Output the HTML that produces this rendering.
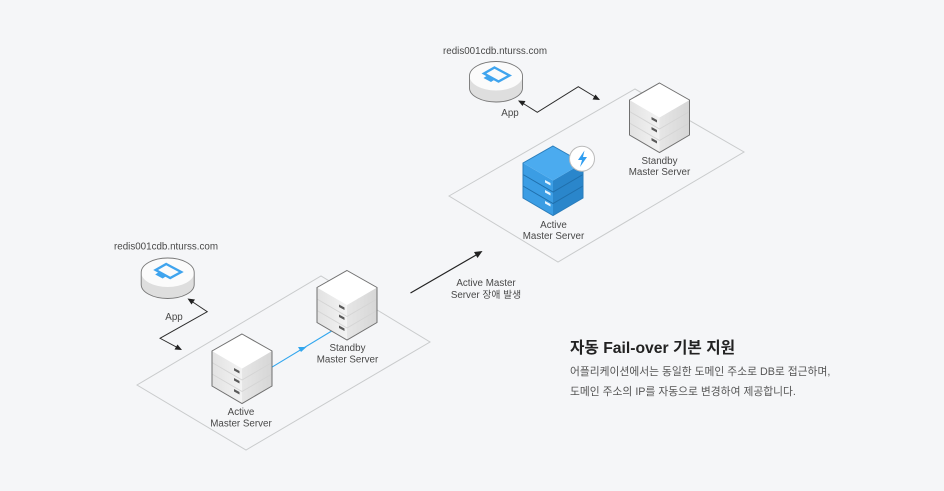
<!DOCTYPE html>
<html><head><meta charset="utf-8"><style>
html,body{margin:0;padding:0;background:#f5f6f8}
svg{display:block}
text{font-family:"Liberation Sans","Noto Sans CJK KR",sans-serif;fill:#484848;font-size:9.8px;text-anchor:middle}
</style></head><body>
<svg width="944" height="491" viewBox="0 0 944 491" xmlns="http://www.w3.org/2000/svg">
<defs>
<linearGradient id="lf" x1="0" y1="0" x2="1" y2="0"><stop offset="0" stop-color="#e2e2e2"/><stop offset="1" stop-color="#f3f3f3"/></linearGradient>
<linearGradient id="rf" x1="0" y1="0" x2="1" y2="0"><stop offset="0" stop-color="#e6e6e6"/><stop offset="1" stop-color="#d6d6d6"/></linearGradient>
<g id="gs">
<path d="M-30 17V52L0 69.500V34.500Z" fill="url(#lf)"/>
<path d="M30 17V52L0 69.500V34.500Z" fill="url(#rf)"/>
<path d="M0 0L30 17L0 34.500L-30 17Z" fill="#fff"/>
<path d="M-30 28.500L0 46L30 28.500M-30 40L0 57.500L30 40" fill="none" stroke="#d4d4d4" stroke-width=".9"/>
<path d="M0 0L30 17V52L0 69.500L-30 52V17Z" fill="none" stroke="#707070" stroke-width="1"/>
<path d="M-8 34l5.500 3v2.500l-5.500-3zM-8 44l5.500 3v2.500l-5.500-3zM-8 55l5.500 3v2.500l-5.500-3z" fill="#5a5a5a"/>
</g>
<g id="gc">
<path d="M-26.500 0V12A26.500 14 0 0 0 26.500 12V0Z" fill="#dedede"/>
<ellipse cx="0" cy="0" rx="26.500" ry="14.500" fill="#fbfbfb"/>
<path d="M-26.500 0V12A26.500 14 0 0 0 26.500 12V0A26.500 14.500 0 0 0 -26.500 0Z" fill="none" stroke="#777" stroke-width=".9"/>
<path d="M-1.500 -8.500L13.500 -.5L2.500 5.500L-12 -2.500Z" fill="none" stroke="#3fa4ee" stroke-width="2.400"/>
<path d="M-9.500 0L-2 4L-5 6L-12.500 2Z" fill="#3fa4ee"/>
</g>
</defs>
<rect width="944" height="491" fill="#f5f6f8"/>

<path d="M137 385L321 276L430 342L246 450Z" fill="none" stroke="#c9cbcc" stroke-width="1"/>
<path d="M449 196L635 89L744 152L558 262Z" fill="none" stroke="#c9cbcc" stroke-width="1"/>

<path d="M271.700 367.300L331.700 331" fill="none" stroke="#31a6ee" stroke-width="1.100"/>
<path d="M306.500 347L298 347L301 352Z" fill="#31a6ee"/>

<use href="#gs" x="242" y="334"/>
<use href="#gs" x="347" y="270.500"/>
<use href="#gs" x="659.500" y="83"/>

<g transform="translate(553 146)">
<path d="M-30 17V52L0 69.500V34.500Z" fill="#3b9de4"/>
<path d="M30 17V52L0 69.500V34.500Z" fill="#2a86cb"/>
<path d="M0 0L30 17L0 34.500L-30 17Z" fill="#4babef"/>
<path d="M-30 28.500L0 46L30 28.500M-30 40L0 57.500L30 40" fill="none" stroke="#1f6fac" stroke-width="1"/>
<path d="M0 0L30 17V52L0 69.500L-30 52V17Z" fill="none" stroke="#2a7dbb" stroke-width="1"/>
<path d="M-8 34l5.500 3v2.500l-5.500-3zM-8 44l5.500 3v2.500l-5.500-3zM-8 55l5.500 3v2.500l-5.500-3z" fill="#e8f5fe"/>
</g>
<circle cx="582" cy="158.700" r="12.500" fill="#fff" stroke="#bbb" stroke-width="1"/>
<path d="M584.500 150.500L578 160H582L580 167L587 157H583Z" fill="#2f9df0"/>

<use href="#gc" x="167.700" y="272.500"/>
<use href="#gc" x="496" y="76"/>

<path d="M189 299.500L207.300 311.700L160 338.300L180.700 349.300" fill="none" stroke="#2a2a2a" stroke-width=".9"/>
<path d="M187.500 298.500L195 299.500L191.500 304.500Z" fill="#222"/>
<path d="M182 350L174.500 349.500L177.500 344.500Z" fill="#222"/>
<path d="M519.300 101L537.300 112.300L578.300 86.700L599 99.300" fill="none" stroke="#2a2a2a" stroke-width=".9"/>
<path d="M518 100.500L525.500 101L522.500 106Z" fill="#222"/>
<path d="M600 100L592.500 99.500L595.500 94.500Z" fill="#222"/>

<path d="M410.500 293L477 254.500" fill="none" stroke="#222" stroke-width="1.200"/>
<path d="M482.500 251L474 252L477.500 258Z" fill="#222"/>

<text x="166" y="249.500">redis001cdb.nturss.com</text>
<text x="495" y="54">redis001cdb.nturss.com</text>
<text x="174" y="320">App</text>
<text x="510" y="116">App</text>
<text x="241" y="415">Active</text>
<text x="241" y="426.500">Master Server</text>
<text x="347.500" y="351">Standby</text>
<text x="347.500" y="362.500">Master Server</text>
<text x="553.500" y="228">Active</text>
<text x="553.500" y="239">Master Server</text>
<text x="659.500" y="164">Standby</text>
<text x="659.500" y="175">Master Server</text>
<text x="486" y="286">Active Master</text>
<text x="486" y="298">Server 장애 발생</text>

<text x="570" y="353" style="text-anchor:start;font-size:15.700px;font-weight:700;fill:#222">자동 Fail-over 기본 지원</text>
<text x="570" y="375" style="text-anchor:start;font-size:10.750px;fill:#555">어플리케이션에서는 동일한 도메인 주소로 DB로 접근하며,</text>
<text x="570" y="395" style="text-anchor:start;font-size:10.750px;fill:#555">도메인 주소의 IP를 자동으로 변경하여 제공합니다.</text>
</svg>
</body></html>
